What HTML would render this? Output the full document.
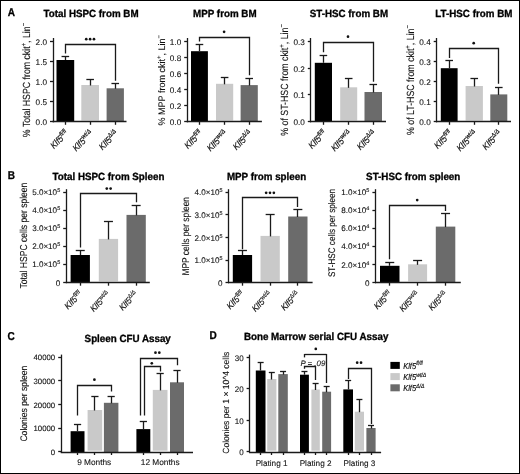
<!DOCTYPE html>
<html><head><meta charset="utf-8"><style>
html,body{margin:0;padding:0;background:#fff;}
body{width:520px;height:474px;overflow:hidden;}
.frame{position:absolute;left:0;top:0;width:520px;height:474px;box-sizing:border-box;border:1px solid #000;}
svg{position:absolute;left:0;top:0;will-change:transform;font-family:"Liberation Sans", sans-serif;text-rendering:geometricPrecision;}
text{stroke:#111;stroke-width:0.1px;}
</style></head><body>
<svg width="520" height="474" viewBox="0 0 520 474">
<rect x="56.5" y="60" width="17.7" height="61.8" fill="#000000"/>
<rect x="81.3" y="85" width="17.7" height="35.5" fill="#c9c9c9"/>
<rect x="106.6" y="88.3" width="17.3" height="33.5" fill="#6b6b6b"/>
<line x1="65.5" y1="56" x2="65.5" y2="60" stroke="#1a1a1a" stroke-width="1.3"/>
<line x1="61.55" y1="56.5" x2="69.15" y2="56.5" stroke="#1a1a1a" stroke-width="1.3"/>
<line x1="90.5" y1="79.6" x2="90.5" y2="85.5" stroke="#1a1a1a" stroke-width="1.3"/>
<line x1="86.35" y1="79.5" x2="93.95" y2="79.5" stroke="#1a1a1a" stroke-width="1.3"/>
<line x1="115.5" y1="83.4" x2="115.5" y2="88.8" stroke="#1a1a1a" stroke-width="1.3"/>
<line x1="111.45" y1="83.5" x2="119.05" y2="83.5" stroke="#1a1a1a" stroke-width="1.3"/>
<line x1="53.5" y1="38" x2="53.5" y2="122.3" stroke="#1a1a1a" stroke-width="1.3"/>
<line x1="52.5" y1="121.5" x2="126.5" y2="121.5" stroke="#1a1a1a" stroke-width="1.3"/>
<line x1="50" y1="41.5" x2="53" y2="41.5" stroke="#1a1a1a" stroke-width="1.3"/>
<line x1="50" y1="61.5" x2="53" y2="61.5" stroke="#1a1a1a" stroke-width="1.3"/>
<line x1="50" y1="81.5" x2="53" y2="81.5" stroke="#1a1a1a" stroke-width="1.3"/>
<line x1="50" y1="101.5" x2="53" y2="101.5" stroke="#1a1a1a" stroke-width="1.3"/>
<line x1="50" y1="121.5" x2="53" y2="121.5" stroke="#1a1a1a" stroke-width="1.3"/>
<line x1="65.5" y1="121.8" x2="65.5" y2="124.8" stroke="#1a1a1a" stroke-width="1.3"/>
<line x1="90.5" y1="121.8" x2="90.5" y2="124.8" stroke="#1a1a1a" stroke-width="1.3"/>
<line x1="115.5" y1="121.8" x2="115.5" y2="124.8" stroke="#1a1a1a" stroke-width="1.3"/>
<polyline points="65.5,53.6 65.5,44.5 115.5,44.5 115.5,80.8" fill="none" stroke="#1a1a1a" stroke-width="1.3"/>
<circle cx="86.25" cy="39.2" r="1.35" fill="#111"/>
<circle cx="90.1" cy="39.2" r="1.35" fill="#111"/>
<circle cx="93.95" cy="39.2" r="1.35" fill="#111"/>
<text x="47" y="44.95" font-size="8.2" text-anchor="end" fill="#111">2.0</text>
<text x="47" y="64.95" font-size="8.2" text-anchor="end" fill="#111">1.5</text>
<text x="47" y="84.95" font-size="8.2" text-anchor="end" fill="#111">1.0</text>
<text x="47" y="104.95" font-size="8.2" text-anchor="end" fill="#111">0.5</text>
<text x="47" y="124.95" font-size="8.2" text-anchor="end" fill="#111">0.0</text>
<text transform="translate(69.05,134.1) rotate(-45) scale(1,1.12)" font-size="8.2" text-anchor="end" font-style="italic" fill="#111" style="stroke:#111;stroke-width:0.15px">Klf5<tspan dy="-3.2" font-size="5.6">fl/fl</tspan></text>
<text transform="translate(93.85,134.1) rotate(-45) scale(1,1.12)" font-size="8.2" text-anchor="end" font-style="italic" fill="#111" style="stroke:#111;stroke-width:0.15px">Klf5<tspan dy="-3.2" font-size="5.6">wt/&#916;</tspan></text>
<text transform="translate(118.95,134.1) rotate(-45) scale(1,1.12)" font-size="8.2" text-anchor="end" font-style="italic" fill="#111" style="stroke:#111;stroke-width:0.15px">Klf5<tspan dy="-3.2" font-size="5.6">&#916;/&#916;</tspan></text>
<rect x="191" y="51.2" width="16.9" height="70.6" fill="#000000"/>
<rect x="216" y="83.8" width="17.2" height="36.7" fill="#c9c9c9"/>
<rect x="240.6" y="85.1" width="17.2" height="36.7" fill="#6b6b6b"/>
<line x1="199.5" y1="44.7" x2="199.5" y2="51.2" stroke="#1a1a1a" stroke-width="1.3"/>
<line x1="195.65" y1="44.5" x2="203.25" y2="44.5" stroke="#1a1a1a" stroke-width="1.3"/>
<line x1="224.5" y1="77.2" x2="224.5" y2="84.3" stroke="#1a1a1a" stroke-width="1.3"/>
<line x1="220.8" y1="77.5" x2="228.4" y2="77.5" stroke="#1a1a1a" stroke-width="1.3"/>
<line x1="249.5" y1="78.4" x2="249.5" y2="85.6" stroke="#1a1a1a" stroke-width="1.3"/>
<line x1="245.4" y1="78.5" x2="253.0" y2="78.5" stroke="#1a1a1a" stroke-width="1.3"/>
<line x1="187.5" y1="38" x2="187.5" y2="122.3" stroke="#1a1a1a" stroke-width="1.3"/>
<line x1="186.7" y1="121.5" x2="261.9" y2="121.5" stroke="#1a1a1a" stroke-width="1.3"/>
<line x1="184.2" y1="41.5" x2="187.2" y2="41.5" stroke="#1a1a1a" stroke-width="1.3"/>
<line x1="184.2" y1="57.5" x2="187.2" y2="57.5" stroke="#1a1a1a" stroke-width="1.3"/>
<line x1="184.2" y1="73.5" x2="187.2" y2="73.5" stroke="#1a1a1a" stroke-width="1.3"/>
<line x1="184.2" y1="89.5" x2="187.2" y2="89.5" stroke="#1a1a1a" stroke-width="1.3"/>
<line x1="184.2" y1="105.5" x2="187.2" y2="105.5" stroke="#1a1a1a" stroke-width="1.3"/>
<line x1="184.2" y1="121.5" x2="187.2" y2="121.5" stroke="#1a1a1a" stroke-width="1.3"/>
<line x1="199.5" y1="121.8" x2="199.5" y2="124.8" stroke="#1a1a1a" stroke-width="1.3"/>
<line x1="224.5" y1="121.8" x2="224.5" y2="124.8" stroke="#1a1a1a" stroke-width="1.3"/>
<line x1="249.5" y1="121.8" x2="249.5" y2="124.8" stroke="#1a1a1a" stroke-width="1.3"/>
<polyline points="199.5,41.4 199.5,37.5 249.5,37.5 249.5,75.2" fill="none" stroke="#1a1a1a" stroke-width="1.3"/>
<circle cx="224.1" cy="31.8" r="1.35" fill="#111"/>
<text x="181.2" y="44.85" font-size="8.2" text-anchor="end" fill="#111">1.0</text>
<text x="181.2" y="60.95" font-size="8.2" text-anchor="end" fill="#111">0.8</text>
<text x="181.2" y="77.05" font-size="8.2" text-anchor="end" fill="#111">0.6</text>
<text x="181.2" y="93.05" font-size="8.2" text-anchor="end" fill="#111">0.4</text>
<text x="181.2" y="109.05" font-size="8.2" text-anchor="end" fill="#111">0.2</text>
<text x="181.2" y="124.95" font-size="8.2" text-anchor="end" fill="#111">0.0</text>
<text transform="translate(203.15,134.1) rotate(-45) scale(1,1.12)" font-size="8.2" text-anchor="end" font-style="italic" fill="#111" style="stroke:#111;stroke-width:0.15px">Klf5<tspan dy="-3.2" font-size="5.6">fl/fl</tspan></text>
<text transform="translate(228.3,134.1) rotate(-45) scale(1,1.12)" font-size="8.2" text-anchor="end" font-style="italic" fill="#111" style="stroke:#111;stroke-width:0.15px">Klf5<tspan dy="-3.2" font-size="5.6">wt/&#916;</tspan></text>
<text transform="translate(252.9,134.1) rotate(-45) scale(1,1.12)" font-size="8.2" text-anchor="end" font-style="italic" fill="#111" style="stroke:#111;stroke-width:0.15px">Klf5<tspan dy="-3.2" font-size="5.6">&#916;/&#916;</tspan></text>
<rect x="314.8" y="62.8" width="17.2" height="59.0" fill="#000000"/>
<rect x="340.2" y="87.3" width="17.0" height="33.2" fill="#c9c9c9"/>
<rect x="364.5" y="92" width="17.5" height="29.8" fill="#6b6b6b"/>
<line x1="323.5" y1="55.3" x2="323.5" y2="62.8" stroke="#1a1a1a" stroke-width="1.3"/>
<line x1="319.6" y1="55.5" x2="327.2" y2="55.5" stroke="#1a1a1a" stroke-width="1.3"/>
<line x1="348.5" y1="78" x2="348.5" y2="87.8" stroke="#1a1a1a" stroke-width="1.3"/>
<line x1="344.9" y1="78.5" x2="352.5" y2="78.5" stroke="#1a1a1a" stroke-width="1.3"/>
<line x1="373.5" y1="84.7" x2="373.5" y2="92.5" stroke="#1a1a1a" stroke-width="1.3"/>
<line x1="369.45" y1="84.5" x2="377.05" y2="84.5" stroke="#1a1a1a" stroke-width="1.3"/>
<line x1="310.5" y1="38" x2="310.5" y2="122.3" stroke="#1a1a1a" stroke-width="1.3"/>
<line x1="310.3" y1="121.5" x2="386" y2="121.5" stroke="#1a1a1a" stroke-width="1.3"/>
<line x1="307.8" y1="41.5" x2="310.8" y2="41.5" stroke="#1a1a1a" stroke-width="1.3"/>
<line x1="307.8" y1="68.5" x2="310.8" y2="68.5" stroke="#1a1a1a" stroke-width="1.3"/>
<line x1="307.8" y1="94.5" x2="310.8" y2="94.5" stroke="#1a1a1a" stroke-width="1.3"/>
<line x1="307.8" y1="121.5" x2="310.8" y2="121.5" stroke="#1a1a1a" stroke-width="1.3"/>
<line x1="323.5" y1="121.8" x2="323.5" y2="124.8" stroke="#1a1a1a" stroke-width="1.3"/>
<line x1="348.5" y1="121.8" x2="348.5" y2="124.8" stroke="#1a1a1a" stroke-width="1.3"/>
<line x1="373.5" y1="121.8" x2="373.5" y2="124.8" stroke="#1a1a1a" stroke-width="1.3"/>
<polyline points="323.5,52.2 323.5,42.5 373.5,42.5 373.5,81.7" fill="none" stroke="#1a1a1a" stroke-width="1.3"/>
<circle cx="348.0" cy="36.7" r="1.35" fill="#111"/>
<text x="304.8" y="44.95" font-size="8.2" text-anchor="end" fill="#111">0.3</text>
<text x="304.8" y="71.65" font-size="8.2" text-anchor="end" fill="#111">0.2</text>
<text x="304.8" y="98.25" font-size="8.2" text-anchor="end" fill="#111">0.1</text>
<text x="304.8" y="124.95" font-size="8.2" text-anchor="end" fill="#111">0.0</text>
<text transform="translate(327.1,134.1) rotate(-45) scale(1,1.12)" font-size="8.2" text-anchor="end" font-style="italic" fill="#111" style="stroke:#111;stroke-width:0.15px">Klf5<tspan dy="-3.2" font-size="5.6">fl/fl</tspan></text>
<text transform="translate(352.4,134.1) rotate(-45) scale(1,1.12)" font-size="8.2" text-anchor="end" font-style="italic" fill="#111" style="stroke:#111;stroke-width:0.15px">Klf5<tspan dy="-3.2" font-size="5.6">wt/&#916;</tspan></text>
<text transform="translate(376.95,134.1) rotate(-45) scale(1,1.12)" font-size="8.2" text-anchor="end" font-style="italic" fill="#111" style="stroke:#111;stroke-width:0.15px">Klf5<tspan dy="-3.2" font-size="5.6">&#916;/&#916;</tspan></text>
<rect x="440.8" y="68.2" width="16.8" height="53.6" fill="#000000"/>
<rect x="465.6" y="86" width="17.3" height="34.5" fill="#c9c9c9"/>
<rect x="490.3" y="94.4" width="17.0" height="27.4" fill="#6b6b6b"/>
<line x1="449.5" y1="60.3" x2="449.5" y2="68.2" stroke="#1a1a1a" stroke-width="1.3"/>
<line x1="445.4" y1="60.5" x2="453" y2="60.5" stroke="#1a1a1a" stroke-width="1.3"/>
<line x1="474.5" y1="78.3" x2="474.5" y2="86.5" stroke="#1a1a1a" stroke-width="1.3"/>
<line x1="470.45" y1="78.5" x2="478.05" y2="78.5" stroke="#1a1a1a" stroke-width="1.3"/>
<line x1="498.5" y1="87.4" x2="498.5" y2="94.9" stroke="#1a1a1a" stroke-width="1.3"/>
<line x1="495.0" y1="87.5" x2="502.6" y2="87.5" stroke="#1a1a1a" stroke-width="1.3"/>
<line x1="436.5" y1="38" x2="436.5" y2="122.3" stroke="#1a1a1a" stroke-width="1.3"/>
<line x1="436.2" y1="121.5" x2="511" y2="121.5" stroke="#1a1a1a" stroke-width="1.3"/>
<line x1="433.7" y1="41.5" x2="436.7" y2="41.5" stroke="#1a1a1a" stroke-width="1.3"/>
<line x1="433.7" y1="61.5" x2="436.7" y2="61.5" stroke="#1a1a1a" stroke-width="1.3"/>
<line x1="433.7" y1="81.5" x2="436.7" y2="81.5" stroke="#1a1a1a" stroke-width="1.3"/>
<line x1="433.7" y1="101.5" x2="436.7" y2="101.5" stroke="#1a1a1a" stroke-width="1.3"/>
<line x1="433.7" y1="121.5" x2="436.7" y2="121.5" stroke="#1a1a1a" stroke-width="1.3"/>
<line x1="449.5" y1="121.8" x2="449.5" y2="124.8" stroke="#1a1a1a" stroke-width="1.3"/>
<line x1="474.5" y1="121.8" x2="474.5" y2="124.8" stroke="#1a1a1a" stroke-width="1.3"/>
<line x1="498.5" y1="121.8" x2="498.5" y2="124.8" stroke="#1a1a1a" stroke-width="1.3"/>
<polyline points="449.5,58 449.5,48.5 498.5,48.5 498.5,83.7" fill="none" stroke="#1a1a1a" stroke-width="1.3"/>
<circle cx="473.7" cy="43.2" r="1.35" fill="#111"/>
<text x="430.7" y="44.65" font-size="8.2" text-anchor="end" fill="#111">0.4</text>
<text x="430.7" y="64.75" font-size="8.2" text-anchor="end" fill="#111">0.3</text>
<text x="430.7" y="84.85" font-size="8.2" text-anchor="end" fill="#111">0.2</text>
<text x="430.7" y="104.95" font-size="8.2" text-anchor="end" fill="#111">0.1</text>
<text x="430.7" y="124.95" font-size="8.2" text-anchor="end" fill="#111">0.0</text>
<text transform="translate(452.9,134.1) rotate(-45) scale(1,1.12)" font-size="8.2" text-anchor="end" font-style="italic" fill="#111" style="stroke:#111;stroke-width:0.15px">Klf5<tspan dy="-3.2" font-size="5.6">fl/fl</tspan></text>
<text transform="translate(477.95,134.1) rotate(-45) scale(1,1.12)" font-size="8.2" text-anchor="end" font-style="italic" fill="#111" style="stroke:#111;stroke-width:0.15px">Klf5<tspan dy="-3.2" font-size="5.6">wt/&#916;</tspan></text>
<text transform="translate(502.5,134.1) rotate(-45) scale(1,1.12)" font-size="8.2" text-anchor="end" font-style="italic" fill="#111" style="stroke:#111;stroke-width:0.15px">Klf5<tspan dy="-3.2" font-size="5.6">&#916;/&#916;</tspan></text>
<text transform="translate(7.8,16.4) scale(0.88,1)" font-size="11.4" font-weight="bold" fill="#000" style="stroke:#000;stroke-width:0.3px">A</text>
<text transform="translate(43.5,17.2) scale(1,1.06)" font-size="9.8" font-weight="bold" fill="#000" style="stroke:#000;stroke-width:0.3px">Total HSPC from BM</text>
<text transform="translate(193.1,17.2) scale(1,1.06)" font-size="9.8" font-weight="bold" fill="#000" style="stroke:#000;stroke-width:0.3px">MPP from BM</text>
<text transform="translate(309.7,17.2) scale(1,1.06)" font-size="9.8" font-weight="bold" fill="#000" style="stroke:#000;stroke-width:0.3px">ST-HSC from BM</text>
<text transform="translate(435.3,17.2) scale(1,1.06)" font-size="9.8" font-weight="bold" fill="#000" style="stroke:#000;stroke-width:0.3px">LT-HSC from BM</text>
<text transform="translate(30.1,80) rotate(-90) scale(1,1.18)" font-size="8.75" text-anchor="middle" fill="#111">% Total HSPC from ckit<tspan dy="-3.5" font-size="6">+</tspan><tspan dy="3.5">, Lin</tspan><tspan dy="-3.5" font-size="6">&#8722;</tspan></text>
<text transform="translate(165,80.2) rotate(-90) scale(1,1.06)" font-size="9.0" text-anchor="middle" fill="#111">% MPP from ckit<tspan dy="-3.5" font-size="6">+</tspan><tspan dy="3.5">, Lin</tspan><tspan dy="-3.5" font-size="6">&#8722;</tspan></text>
<text transform="translate(288.3,79.9) rotate(-90) scale(1,1.18)" font-size="8.8" text-anchor="middle" fill="#111">% of ST-HSC from ckit<tspan dy="-3.5" font-size="6">+</tspan><tspan dy="3.5">, Lin</tspan><tspan dy="-3.5" font-size="6">&#8722;</tspan></text>
<text transform="translate(413.8,80) rotate(-90) scale(1,1.18)" font-size="8.8" text-anchor="middle" fill="#111">% of LT-HSC from ckit<tspan dy="-3.5" font-size="6">+</tspan><tspan dy="3.5">, Lin</tspan><tspan dy="-3.5" font-size="6">&#8722;</tspan></text>
<rect x="70.6" y="255" width="19.3" height="27.7" fill="#000000"/>
<rect x="98.8" y="238.9" width="19.3" height="42.5" fill="#c9c9c9"/>
<rect x="126.5" y="214.9" width="19.3" height="67.8" fill="#6b6b6b"/>
<line x1="80.5" y1="250.8" x2="80.5" y2="255" stroke="#1a1a1a" stroke-width="1.3"/>
<line x1="75.75" y1="250.5" x2="84.75" y2="250.5" stroke="#1a1a1a" stroke-width="1.3"/>
<line x1="108.5" y1="221" x2="108.5" y2="239.4" stroke="#1a1a1a" stroke-width="1.3"/>
<line x1="103.95" y1="221.5" x2="112.95" y2="221.5" stroke="#1a1a1a" stroke-width="1.3"/>
<line x1="136.5" y1="205.4" x2="136.5" y2="215.4" stroke="#1a1a1a" stroke-width="1.3"/>
<line x1="131.65" y1="205.5" x2="140.65" y2="205.5" stroke="#1a1a1a" stroke-width="1.3"/>
<line x1="66.5" y1="189.2" x2="66.5" y2="283.2" stroke="#1a1a1a" stroke-width="1.3"/>
<line x1="65.7" y1="282.5" x2="149.8" y2="282.5" stroke="#1a1a1a" stroke-width="1.3"/>
<line x1="63.2" y1="192.5" x2="66.2" y2="192.5" stroke="#1a1a1a" stroke-width="1.3"/>
<line x1="63.2" y1="210.5" x2="66.2" y2="210.5" stroke="#1a1a1a" stroke-width="1.3"/>
<line x1="63.2" y1="228.5" x2="66.2" y2="228.5" stroke="#1a1a1a" stroke-width="1.3"/>
<line x1="63.2" y1="246.5" x2="66.2" y2="246.5" stroke="#1a1a1a" stroke-width="1.3"/>
<line x1="63.2" y1="264.5" x2="66.2" y2="264.5" stroke="#1a1a1a" stroke-width="1.3"/>
<line x1="63.2" y1="282.5" x2="66.2" y2="282.5" stroke="#1a1a1a" stroke-width="1.3"/>
<line x1="80.5" y1="282.7" x2="80.5" y2="285.7" stroke="#1a1a1a" stroke-width="1.3"/>
<line x1="108.5" y1="282.7" x2="108.5" y2="285.7" stroke="#1a1a1a" stroke-width="1.3"/>
<line x1="136.5" y1="282.7" x2="136.5" y2="285.7" stroke="#1a1a1a" stroke-width="1.3"/>
<polyline points="80.5,247.5 80.5,193.5 136.5,193.5 136.5,202.3" fill="none" stroke="#1a1a1a" stroke-width="1.3"/>
<circle cx="106.78" cy="188.6" r="1.35" fill="#111"/>
<circle cx="110.62" cy="188.6" r="1.35" fill="#111"/>
<text x="60.2" y="195.12" font-size="8.1" text-anchor="end" fill="#111">5.0&#215;10<tspan dy="-3" font-size="5.5">5</tspan></text>
<text x="60.2" y="213.22" font-size="8.1" text-anchor="end" fill="#111">4.0&#215;10<tspan dy="-3" font-size="5.5">5</tspan></text>
<text x="60.2" y="231.32" font-size="8.1" text-anchor="end" fill="#111">3.0&#215;10<tspan dy="-3" font-size="5.5">5</tspan></text>
<text x="60.2" y="249.42" font-size="8.1" text-anchor="end" fill="#111">2.0&#215;10<tspan dy="-3" font-size="5.5">5</tspan></text>
<text x="60.2" y="267.42" font-size="8.1" text-anchor="end" fill="#111">1.0&#215;10<tspan dy="-3" font-size="5.5">5</tspan></text>
<text x="60.2" y="285.52" font-size="8.1" text-anchor="end" fill="#111">0</text>
<text transform="translate(82.75,295.0) rotate(-45) scale(1,1.12)" font-size="8.0" text-anchor="end" font-style="italic" fill="#111" style="stroke:#111;stroke-width:0.15px">Klf5<tspan dy="-3.2" font-size="5.4">fl/fl</tspan></text>
<text transform="translate(110.95,295.0) rotate(-45) scale(1,1.12)" font-size="8.0" text-anchor="end" font-style="italic" fill="#111" style="stroke:#111;stroke-width:0.15px">Klf5<tspan dy="-3.2" font-size="5.4">wt/&#916;</tspan></text>
<text transform="translate(138.65,295.0) rotate(-45) scale(1,1.12)" font-size="8.0" text-anchor="end" font-style="italic" fill="#111" style="stroke:#111;stroke-width:0.15px">Klf5<tspan dy="-3.2" font-size="5.4">&#916;/&#916;</tspan></text>
<rect x="232.8" y="255" width="19.3" height="27.7" fill="#000000"/>
<rect x="260.5" y="235.9" width="19.3" height="45.5" fill="#c9c9c9"/>
<rect x="288.2" y="216.5" width="19.3" height="66.2" fill="#6b6b6b"/>
<line x1="242.5" y1="250.6" x2="242.5" y2="255" stroke="#1a1a1a" stroke-width="1.3"/>
<line x1="237.95" y1="250.5" x2="246.95" y2="250.5" stroke="#1a1a1a" stroke-width="1.3"/>
<line x1="270.5" y1="214.6" x2="270.5" y2="236.4" stroke="#1a1a1a" stroke-width="1.3"/>
<line x1="265.65" y1="214.5" x2="274.65" y2="214.5" stroke="#1a1a1a" stroke-width="1.3"/>
<line x1="297.5" y1="209.5" x2="297.5" y2="217.0" stroke="#1a1a1a" stroke-width="1.3"/>
<line x1="293.35" y1="209.5" x2="302.35" y2="209.5" stroke="#1a1a1a" stroke-width="1.3"/>
<line x1="228.5" y1="189.2" x2="228.5" y2="283.2" stroke="#1a1a1a" stroke-width="1.3"/>
<line x1="228.0" y1="282.5" x2="312.6" y2="282.5" stroke="#1a1a1a" stroke-width="1.3"/>
<line x1="225.5" y1="192.5" x2="228.5" y2="192.5" stroke="#1a1a1a" stroke-width="1.3"/>
<line x1="225.5" y1="214.5" x2="228.5" y2="214.5" stroke="#1a1a1a" stroke-width="1.3"/>
<line x1="225.5" y1="237.5" x2="228.5" y2="237.5" stroke="#1a1a1a" stroke-width="1.3"/>
<line x1="225.5" y1="260.5" x2="228.5" y2="260.5" stroke="#1a1a1a" stroke-width="1.3"/>
<line x1="225.5" y1="282.5" x2="228.5" y2="282.5" stroke="#1a1a1a" stroke-width="1.3"/>
<line x1="242.5" y1="282.7" x2="242.5" y2="285.7" stroke="#1a1a1a" stroke-width="1.3"/>
<line x1="270.5" y1="282.7" x2="270.5" y2="285.7" stroke="#1a1a1a" stroke-width="1.3"/>
<line x1="297.5" y1="282.7" x2="297.5" y2="285.7" stroke="#1a1a1a" stroke-width="1.3"/>
<polyline points="242.5,249.2 242.5,197.5 297.5,197.5 297.5,207.1" fill="none" stroke="#1a1a1a" stroke-width="1.3"/>
<circle cx="266.15" cy="192.8" r="1.35" fill="#111"/>
<circle cx="270.0" cy="192.8" r="1.35" fill="#111"/>
<circle cx="273.85" cy="192.8" r="1.35" fill="#111"/>
<text x="222.5" y="195.22" font-size="8.1" text-anchor="end" fill="#111">4.0&#215;10<tspan dy="-3" font-size="5.5">5</tspan></text>
<text x="222.5" y="217.82" font-size="8.1" text-anchor="end" fill="#111">3.0&#215;10<tspan dy="-3" font-size="5.5">5</tspan></text>
<text x="222.5" y="240.52" font-size="8.1" text-anchor="end" fill="#111">2.0&#215;10<tspan dy="-3" font-size="5.5">5</tspan></text>
<text x="222.5" y="263.12" font-size="8.1" text-anchor="end" fill="#111">1.0&#215;10<tspan dy="-3" font-size="5.5">5</tspan></text>
<text x="222.5" y="285.52" font-size="8.1" text-anchor="end" fill="#111">0</text>
<text transform="translate(244.95,295.0) rotate(-45) scale(1,1.12)" font-size="8.0" text-anchor="end" font-style="italic" fill="#111" style="stroke:#111;stroke-width:0.15px">Klf5<tspan dy="-3.2" font-size="5.4">fl/fl</tspan></text>
<text transform="translate(272.65,295.0) rotate(-45) scale(1,1.12)" font-size="8.0" text-anchor="end" font-style="italic" fill="#111" style="stroke:#111;stroke-width:0.15px">Klf5<tspan dy="-3.2" font-size="5.4">wt/&#916;</tspan></text>
<text transform="translate(300.35,295.0) rotate(-45) scale(1,1.12)" font-size="8.0" text-anchor="end" font-style="italic" fill="#111" style="stroke:#111;stroke-width:0.15px">Klf5<tspan dy="-3.2" font-size="5.4">&#916;/&#916;</tspan></text>
<rect x="380" y="265.8" width="19.5" height="16.9" fill="#000000"/>
<rect x="408.1" y="264.3" width="19.0" height="17.1" fill="#c9c9c9"/>
<rect x="435.8" y="226.6" width="19.5" height="56.1" fill="#6b6b6b"/>
<line x1="389.5" y1="262.1" x2="389.5" y2="265.8" stroke="#1a1a1a" stroke-width="1.3"/>
<line x1="385.25" y1="262.5" x2="394.25" y2="262.5" stroke="#1a1a1a" stroke-width="1.3"/>
<line x1="417.5" y1="260.5" x2="417.5" y2="264.8" stroke="#1a1a1a" stroke-width="1.3"/>
<line x1="413.1" y1="260.5" x2="422.1" y2="260.5" stroke="#1a1a1a" stroke-width="1.3"/>
<line x1="445.5" y1="213.1" x2="445.5" y2="227.1" stroke="#1a1a1a" stroke-width="1.3"/>
<line x1="441.05" y1="213.5" x2="450.05" y2="213.5" stroke="#1a1a1a" stroke-width="1.3"/>
<line x1="375.5" y1="189.2" x2="375.5" y2="283.2" stroke="#1a1a1a" stroke-width="1.3"/>
<line x1="374.9" y1="282.5" x2="460.8" y2="282.5" stroke="#1a1a1a" stroke-width="1.3"/>
<line x1="372.4" y1="192.5" x2="375.4" y2="192.5" stroke="#1a1a1a" stroke-width="1.3"/>
<line x1="372.4" y1="210.5" x2="375.4" y2="210.5" stroke="#1a1a1a" stroke-width="1.3"/>
<line x1="372.4" y1="228.5" x2="375.4" y2="228.5" stroke="#1a1a1a" stroke-width="1.3"/>
<line x1="372.4" y1="246.5" x2="375.4" y2="246.5" stroke="#1a1a1a" stroke-width="1.3"/>
<line x1="372.4" y1="264.5" x2="375.4" y2="264.5" stroke="#1a1a1a" stroke-width="1.3"/>
<line x1="372.4" y1="282.5" x2="375.4" y2="282.5" stroke="#1a1a1a" stroke-width="1.3"/>
<line x1="389.5" y1="282.7" x2="389.5" y2="285.7" stroke="#1a1a1a" stroke-width="1.3"/>
<line x1="417.5" y1="282.7" x2="417.5" y2="285.7" stroke="#1a1a1a" stroke-width="1.3"/>
<line x1="445.5" y1="282.7" x2="445.5" y2="285.7" stroke="#1a1a1a" stroke-width="1.3"/>
<polyline points="389.5,259.2 389.5,205.5 445.5,205.5 445.5,210.9" fill="none" stroke="#1a1a1a" stroke-width="1.3"/>
<circle cx="417.2" cy="200.1" r="1.35" fill="#111"/>
<text x="369.4" y="195.12" font-size="8.1" text-anchor="end" fill="#111">1.0&#215;10<tspan dy="-3" font-size="5.5">5</tspan></text>
<text x="369.4" y="213.32" font-size="8.1" text-anchor="end" fill="#111">8.0&#215;10<tspan dy="-3" font-size="5.5">4</tspan></text>
<text x="369.4" y="231.42" font-size="8.1" text-anchor="end" fill="#111">6.0&#215;10<tspan dy="-3" font-size="5.5">4</tspan></text>
<text x="369.4" y="249.42" font-size="8.1" text-anchor="end" fill="#111">4.0&#215;10<tspan dy="-3" font-size="5.5">4</tspan></text>
<text x="369.4" y="267.52" font-size="8.1" text-anchor="end" fill="#111">2.0&#215;10<tspan dy="-3" font-size="5.5">4</tspan></text>
<text x="369.4" y="285.52" font-size="8.1" text-anchor="end" fill="#111">0</text>
<text transform="translate(392.25,295.0) rotate(-45) scale(1,1.12)" font-size="8.0" text-anchor="end" font-style="italic" fill="#111" style="stroke:#111;stroke-width:0.15px">Klf5<tspan dy="-3.2" font-size="5.4">fl/fl</tspan></text>
<text transform="translate(420.1,295.0) rotate(-45) scale(1,1.12)" font-size="8.0" text-anchor="end" font-style="italic" fill="#111" style="stroke:#111;stroke-width:0.15px">Klf5<tspan dy="-3.2" font-size="5.4">wt/&#916;</tspan></text>
<text transform="translate(448.05,295.0) rotate(-45) scale(1,1.12)" font-size="8.0" text-anchor="end" font-style="italic" fill="#111" style="stroke:#111;stroke-width:0.15px">Klf5<tspan dy="-3.2" font-size="5.4">&#916;/&#916;</tspan></text>
<text transform="translate(7.7,178.6) scale(0.88,1)" font-size="11.4" font-weight="bold" fill="#000" style="stroke:#000;stroke-width:0.3px">B</text>
<text transform="translate(52.5,179.8) scale(1,1.06)" font-size="9.8" font-weight="bold" fill="#000" style="stroke:#000;stroke-width:0.3px">Total HSPC from Spleen</text>
<text transform="translate(226.9,179.8) scale(1,1.06)" font-size="9.8" font-weight="bold" fill="#000" style="stroke:#000;stroke-width:0.3px">MPP from spleen</text>
<text transform="translate(366.1,179.9) scale(1,1.06)" font-size="9.8" font-weight="bold" fill="#000" style="stroke:#000;stroke-width:0.3px">ST-HSC from spleen</text>
<text transform="translate(27,235.6) rotate(-90) scale(1,1.18)" font-size="8.55" text-anchor="middle" fill="#111">Total HSPC cells per spleen</text>
<text transform="translate(189,236.3) rotate(-90) scale(1,1.18)" font-size="8.4" text-anchor="middle" fill="#111">MPP cells per spleen</text>
<text transform="translate(335.3,233) rotate(-90) scale(1,1.18)" font-size="8.1" text-anchor="middle" fill="#111">ST-HSC cells per spleen</text>
<rect x="70.6" y="431.2" width="13.9" height="20.8" fill="#000000"/>
<rect x="87.6" y="410" width="14.6" height="40.7" fill="#c9c9c9"/>
<rect x="103.9" y="402.8" width="14.5" height="49.2" fill="#6b6b6b"/>
<rect x="136.4" y="429.1" width="13.9" height="22.9" fill="#000000"/>
<rect x="152.8" y="389.9" width="14.7" height="60.8" fill="#c9c9c9"/>
<rect x="170" y="382.3" width="14" height="69.7" fill="#6b6b6b"/>
<line x1="77.5" y1="424.4" x2="77.5" y2="431.2" stroke="#1a1a1a" stroke-width="1.3"/>
<line x1="73.95" y1="424.5" x2="81.15" y2="424.5" stroke="#1a1a1a" stroke-width="1.3"/>
<line x1="94.5" y1="396.5" x2="94.5" y2="410.5" stroke="#1a1a1a" stroke-width="1.3"/>
<line x1="91.3" y1="396.5" x2="98.5" y2="396.5" stroke="#1a1a1a" stroke-width="1.3"/>
<line x1="111.5" y1="396.5" x2="111.5" y2="403.3" stroke="#1a1a1a" stroke-width="1.3"/>
<line x1="107.55" y1="396.5" x2="114.75" y2="396.5" stroke="#1a1a1a" stroke-width="1.3"/>
<line x1="143.5" y1="421.5" x2="143.5" y2="429.1" stroke="#1a1a1a" stroke-width="1.3"/>
<line x1="139.75" y1="421.5" x2="146.95" y2="421.5" stroke="#1a1a1a" stroke-width="1.3"/>
<line x1="160.5" y1="373.4" x2="160.5" y2="390.4" stroke="#1a1a1a" stroke-width="1.3"/>
<line x1="156.55" y1="373.5" x2="163.75" y2="373.5" stroke="#1a1a1a" stroke-width="1.3"/>
<line x1="177.5" y1="370.9" x2="177.5" y2="382.8" stroke="#1a1a1a" stroke-width="1.3"/>
<line x1="173.4" y1="370.5" x2="180.6" y2="370.5" stroke="#1a1a1a" stroke-width="1.3"/>
<line x1="61.5" y1="354.6" x2="61.5" y2="452.5" stroke="#1a1a1a" stroke-width="1.3"/>
<line x1="60.7" y1="452.5" x2="193" y2="452.5" stroke="#1a1a1a" stroke-width="1.3"/>
<line x1="58.2" y1="357.5" x2="61.2" y2="357.5" stroke="#1a1a1a" stroke-width="1.3"/>
<line x1="58.2" y1="380.5" x2="61.2" y2="380.5" stroke="#1a1a1a" stroke-width="1.3"/>
<line x1="58.2" y1="404.5" x2="61.2" y2="404.5" stroke="#1a1a1a" stroke-width="1.3"/>
<line x1="58.2" y1="428.5" x2="61.2" y2="428.5" stroke="#1a1a1a" stroke-width="1.3"/>
<line x1="58.2" y1="451.5" x2="61.2" y2="451.5" stroke="#1a1a1a" stroke-width="1.3"/>
<line x1="77.5" y1="452" x2="77.5" y2="455" stroke="#1a1a1a" stroke-width="1.3"/>
<line x1="94.5" y1="452" x2="94.5" y2="455" stroke="#1a1a1a" stroke-width="1.3"/>
<line x1="111.5" y1="452" x2="111.5" y2="455" stroke="#1a1a1a" stroke-width="1.3"/>
<line x1="143.5" y1="452" x2="143.5" y2="455" stroke="#1a1a1a" stroke-width="1.3"/>
<line x1="160.5" y1="452" x2="160.5" y2="455" stroke="#1a1a1a" stroke-width="1.3"/>
<line x1="177.5" y1="452" x2="177.5" y2="455" stroke="#1a1a1a" stroke-width="1.3"/>
<polyline points="77.5,415.4 77.5,385.5 111.5,385.5 111.5,391.6" fill="none" stroke="#1a1a1a" stroke-width="1.3"/>
<circle cx="94.4" cy="379.7" r="1.35" fill="#111"/>
<polyline points="140.5,415.4 140.5,358.5 177.5,358.5 177.5,365.3" fill="none" stroke="#1a1a1a" stroke-width="1.3"/>
<circle cx="155.47" cy="352.7" r="1.35" fill="#111"/>
<circle cx="159.32" cy="352.7" r="1.35" fill="#111"/>
<polyline points="144.5,415.4 144.5,366.5 160.5,366.5 160.5,371.6" fill="none" stroke="#1a1a1a" stroke-width="1.3"/>
<circle cx="151.8" cy="363.3" r="1.35" fill="#111"/>
<text x="55.2" y="360.21" font-size="7.8" text-anchor="end" fill="#111">40000</text>
<text x="55.2" y="383.91" font-size="7.8" text-anchor="end" fill="#111">30000</text>
<text x="55.2" y="407.61" font-size="7.8" text-anchor="end" fill="#111">20000</text>
<text x="55.2" y="431.21" font-size="7.8" text-anchor="end" fill="#111">10000</text>
<text x="55.2" y="454.81" font-size="7.8" text-anchor="end" fill="#111">0</text>
<text transform="translate(7.4,339.6) scale(0.88,1)" font-size="11.4" font-weight="bold" fill="#000" style="stroke:#000;stroke-width:0.3px">C</text>
<text transform="translate(84.6,342.3) scale(1,1.06)" font-size="9.8" font-weight="bold" fill="#000" style="stroke:#000;stroke-width:0.3px">Spleen CFU Assay</text>
<text transform="translate(27,403.6) rotate(-90) scale(1,1.1)" font-size="8.6" text-anchor="middle" fill="#111">Colonies per spleen</text>
<text x="94.2" y="465.3" font-size="8.3" text-anchor="middle" font-weight="normal" font-style="normal" fill="#111" >9 Months</text>
<text x="160.2" y="465.3" font-size="8.3" text-anchor="middle" font-weight="normal" font-style="normal" fill="#111" >12 Months</text>
<rect x="255.8" y="370.5" width="9.7" height="81.5" fill="#000000"/>
<rect x="267.2" y="379" width="9.2" height="71.7" fill="#c9c9c9"/>
<rect x="278.3" y="374.1" width="9.5" height="77.9" fill="#6b6b6b"/>
<rect x="300" y="374.7" width="8.9" height="77.3" fill="#000000"/>
<rect x="311.4" y="389.5" width="8.4" height="61.2" fill="#c9c9c9"/>
<rect x="322.2" y="391.7" width="8.9" height="60.3" fill="#6b6b6b"/>
<rect x="343.3" y="389.4" width="9.7" height="62.6" fill="#000000"/>
<rect x="354.8" y="411.7" width="9.2" height="39.0" fill="#c9c9c9"/>
<rect x="366.4" y="428" width="9.2" height="24" fill="#6b6b6b"/>
<line x1="260.5" y1="362.7" x2="260.5" y2="370.5" stroke="#1a1a1a" stroke-width="1.3"/>
<line x1="257.65" y1="362.5" x2="263.65" y2="362.5" stroke="#1a1a1a" stroke-width="1.3"/>
<line x1="271.5" y1="372.4" x2="271.5" y2="379.5" stroke="#1a1a1a" stroke-width="1.3"/>
<line x1="268.8" y1="372.5" x2="274.8" y2="372.5" stroke="#1a1a1a" stroke-width="1.3"/>
<line x1="283.5" y1="371.7" x2="283.5" y2="374.6" stroke="#1a1a1a" stroke-width="1.3"/>
<line x1="280.05" y1="371.5" x2="286.05" y2="371.5" stroke="#1a1a1a" stroke-width="1.3"/>
<line x1="304.5" y1="371.8" x2="304.5" y2="374.7" stroke="#1a1a1a" stroke-width="1.3"/>
<line x1="301.45" y1="371.5" x2="307.45" y2="371.5" stroke="#1a1a1a" stroke-width="1.3"/>
<line x1="315.5" y1="383.6" x2="315.5" y2="390.0" stroke="#1a1a1a" stroke-width="1.3"/>
<line x1="312.6" y1="383.5" x2="318.6" y2="383.5" stroke="#1a1a1a" stroke-width="1.3"/>
<line x1="326.5" y1="386.5" x2="326.5" y2="392.2" stroke="#1a1a1a" stroke-width="1.3"/>
<line x1="323.65" y1="386.5" x2="329.65" y2="386.5" stroke="#1a1a1a" stroke-width="1.3"/>
<line x1="348.5" y1="380.2" x2="348.5" y2="389.4" stroke="#1a1a1a" stroke-width="1.3"/>
<line x1="345.15" y1="380.5" x2="351.15" y2="380.5" stroke="#1a1a1a" stroke-width="1.3"/>
<line x1="359.5" y1="399.6" x2="359.5" y2="412.2" stroke="#1a1a1a" stroke-width="1.3"/>
<line x1="356.4" y1="399.5" x2="362.4" y2="399.5" stroke="#1a1a1a" stroke-width="1.3"/>
<line x1="371.5" y1="425.6" x2="371.5" y2="428.5" stroke="#1a1a1a" stroke-width="1.3"/>
<line x1="368.0" y1="425.5" x2="374.0" y2="425.5" stroke="#1a1a1a" stroke-width="1.3"/>
<line x1="249.5" y1="354.6" x2="249.5" y2="452.5" stroke="#1a1a1a" stroke-width="1.3"/>
<line x1="249.1" y1="452.5" x2="381.1" y2="452.5" stroke="#1a1a1a" stroke-width="1.3"/>
<line x1="246.6" y1="357.5" x2="249.6" y2="357.5" stroke="#1a1a1a" stroke-width="1.3"/>
<line x1="246.6" y1="388.5" x2="249.6" y2="388.5" stroke="#1a1a1a" stroke-width="1.3"/>
<line x1="246.6" y1="420.5" x2="249.6" y2="420.5" stroke="#1a1a1a" stroke-width="1.3"/>
<line x1="246.6" y1="451.5" x2="249.6" y2="451.5" stroke="#1a1a1a" stroke-width="1.3"/>
<line x1="260.5" y1="452" x2="260.5" y2="455" stroke="#1a1a1a" stroke-width="1.3"/>
<line x1="271.5" y1="452" x2="271.5" y2="455" stroke="#1a1a1a" stroke-width="1.3"/>
<line x1="283.5" y1="452" x2="283.5" y2="455" stroke="#1a1a1a" stroke-width="1.3"/>
<line x1="304.5" y1="452" x2="304.5" y2="455" stroke="#1a1a1a" stroke-width="1.3"/>
<line x1="315.5" y1="452" x2="315.5" y2="455" stroke="#1a1a1a" stroke-width="1.3"/>
<line x1="326.5" y1="452" x2="326.5" y2="455" stroke="#1a1a1a" stroke-width="1.3"/>
<line x1="348.5" y1="452" x2="348.5" y2="455" stroke="#1a1a1a" stroke-width="1.3"/>
<line x1="359.5" y1="452" x2="359.5" y2="455" stroke="#1a1a1a" stroke-width="1.3"/>
<line x1="371.5" y1="452" x2="371.5" y2="455" stroke="#1a1a1a" stroke-width="1.3"/>
<polyline points="304.5,368.8 304.5,366.5 315.5,366.5 315.5,379.9" fill="none" stroke="#1a1a1a" stroke-width="1.3"/>
<polyline points="348.5,379 348.5,368.5 371.5,368.5 371.5,423.9" fill="none" stroke="#1a1a1a" stroke-width="1.3"/>
<circle cx="357.18" cy="362.7" r="1.35" fill="#111"/>
<circle cx="361.03" cy="362.7" r="1.35" fill="#111"/>
<line x1="304.45" y1="354.5" x2="326.65" y2="354.5" stroke="#1a1a1a" stroke-width="1.3"/>
<line x1="304.5" y1="354" x2="304.5" y2="357.4" stroke="#1a1a1a" stroke-width="1.3"/>
<line x1="326.5" y1="354" x2="326.5" y2="383" stroke="#1a1a1a" stroke-width="1.3"/>
<circle cx="315.8" cy="348.9" r="1.35" fill="#111"/>
<text x="300.4" y="365.6" font-size="7.9" font-style="italic" fill="#1a1a1a" style="stroke:#1a1a1a;stroke-width:0.1px">P = .09</text>
<text x="243.6" y="360.58" font-size="8.0" text-anchor="end" fill="#111">30</text>
<text x="243.6" y="392.18" font-size="8.0" text-anchor="end" fill="#111">20</text>
<text x="243.6" y="423.88" font-size="8.0" text-anchor="end" fill="#111">10</text>
<text x="243.6" y="455.08" font-size="8.0" text-anchor="end" fill="#111">0</text>
<text transform="translate(209.6,339.4) scale(0.88,1)" font-size="11.4" font-weight="bold" fill="#000" style="stroke:#000;stroke-width:0.3px">D</text>
<text transform="translate(243.9,340.3) scale(1,1.06)" font-size="9.8" font-weight="bold" fill="#000" style="stroke:#000;stroke-width:0.3px">Bone Marrow serial CFU Assay</text>
<text transform="translate(228.8,402.7) rotate(-90) scale(1,1.05)" font-size="8.5" text-anchor="middle" fill="#111">Colonies per 1 &#215; 10^4 cells</text>
<text x="271.6" y="465.5" font-size="8.2" text-anchor="middle" font-weight="normal" font-style="normal" fill="#111" >Plating 1</text>
<text x="315.6" y="465.5" font-size="8.2" text-anchor="middle" font-weight="normal" font-style="normal" fill="#111" >Plating 2</text>
<text x="359.5" y="465.5" font-size="8.2" text-anchor="middle" font-weight="normal" font-style="normal" fill="#111" >Plating 3</text>
<rect x="390.4" y="361.9" width="9.4" height="7.0" fill="#000000"/>
<text transform="translate(403.2,368.8) scale(1,1.15)" font-size="7.5" font-style="italic" fill="#111" style="stroke:#111;stroke-width:0.15px">Klf5<tspan dy="-3" font-size="5.2">fl/fl</tspan></text>
<rect x="390.4" y="373.1" width="9.4" height="7.0" fill="#c9c9c9"/>
<text transform="translate(403.2,380) scale(1,1.15)" font-size="7.5" font-style="italic" fill="#111" style="stroke:#111;stroke-width:0.15px">Klf5<tspan dy="-3" font-size="5.2">wt/&#916;</tspan></text>
<rect x="390.4" y="384.3" width="9.4" height="7.0" fill="#6b6b6b"/>
<text transform="translate(403.2,391.2) scale(1,1.15)" font-size="7.5" font-style="italic" fill="#111" style="stroke:#111;stroke-width:0.15px">Klf5<tspan dy="-3" font-size="5.2">&#916;/&#916;</tspan></text>
</svg>
<div class="frame"></div>
</body></html>
